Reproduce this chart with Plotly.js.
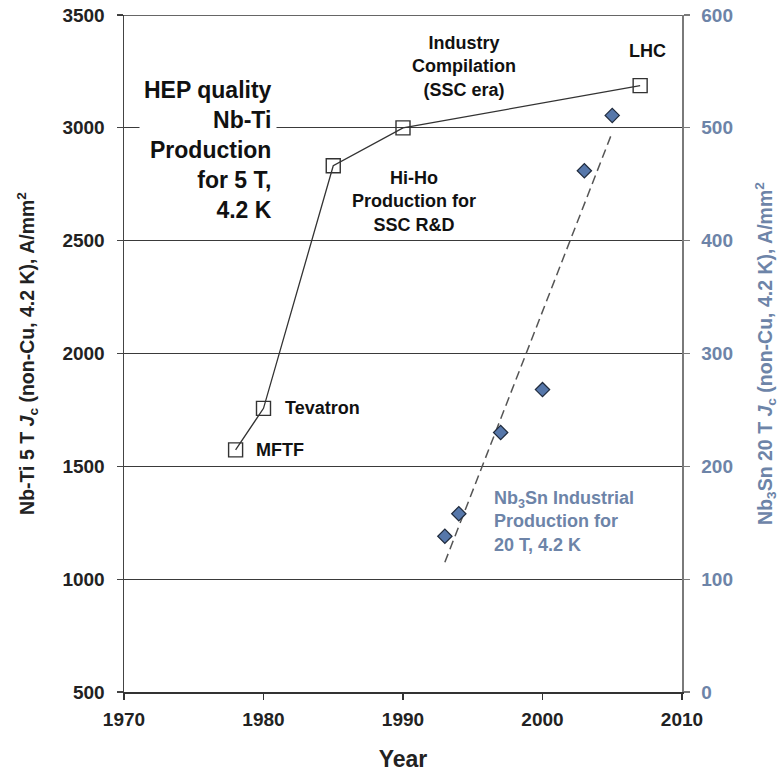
<!DOCTYPE html>
<html>
<head>
<meta charset="utf-8">
<script src="https://cdn.plot.ly/plotly-3.0.1.min.js"></script>
<style>html,body{margin:0;padding:0;background:#fff;}#chart{width:784px;height:772px;}</style>
</head>
<body>
<div id="chart"></div>
<script>
// Nb-Ti production milestones (left axis, A/mm²)
const nbtiYears = [1978, 1980, 1985, 1990, 2007];
const nbtiJc = [1573, 1757, 2832, 3000, 3187];

// Nb3Sn industrial production (right axis, A/mm²)
const nb3snYears = [1993, 1994, 1997, 2000, 2003, 2005];
const nb3snJc = [138, 158, 230, 268, 462, 511];

// Dashed trend line endpoints (right axis)
const trendYears = [1993, 2005];
const trendJc = [115, 496];

const xTicks = [1970, 1980, 1990, 2000, 2010];
const yLeftTicks = [500, 1000, 1500, 2000, 2500, 3000, 3500];
const yRightTicks = [0, 100, 200, 300, 400, 500, 600];

const FONT = 'Liberation Sans, Arial, Helvetica, sans-serif';
const BLUE_TXT = '#6d84a8';

const traces = [
  {
    x: trendYears, y: trendJc, yaxis: 'y2', type: 'scatter', mode: 'lines',
    line: {color: '#555555', width: 1.5, dash: '9px,5px'}, hoverinfo: 'skip'
  },
  {
    x: nbtiYears, y: nbtiJc, type: 'scatter', mode: 'lines+markers',
    line: {color: '#333333', width: 1.3},
    marker: {symbol: 'square-open', size: 14, color: '#333333', line: {width: 1.4}}
  },
  {
    x: nb3snYears, y: nb3snJc, yaxis: 'y2', type: 'scatter', mode: 'markers',
    marker: {symbol: 'diamond', size: 11, color: '#5677aa', line: {color: '#1f2a3c', width: 1.2}}
  }
];

const layout = {
  width: 784, height: 772,
  margin: {l: 124, r: 102, t: 15, b: 80},
  paper_bgcolor: '#ffffff', plot_bgcolor: '#ffffff',
  showlegend: false,
  font: {family: FONT, size: 18, color: '#222222'},
  xaxis: {
    range: [1970, 2010], tickvals: xTicks, ticktext: xTicks.map(String),
    showgrid: false, zeroline: false,
    showline: true, linecolor: '#333333', linewidth: 1.5, mirror: false,
    ticks: 'outside', ticklen: 6, tickcolor: '#333333', tickwidth: 1.5,
    tickfont: {family: FONT, size: 19, color: '#222222', weight: 'bold'},
    ticklabelstandoff: 4,
    title: {text: '<b>Year</b>', font: {family: FONT, size: 23, color: '#222222'}, standoff: 24}
  },
  yaxis: {
    range: [500, 3500], tickvals: yLeftTicks, ticktext: yLeftTicks.map(String),
    showgrid: true, gridcolor: '#3a3a3a', gridwidth: 1.3, zeroline: false,
    showline: true, linecolor: '#444444', linewidth: 1.5,
    ticks: 'outside', ticklen: 6, tickcolor: '#444444', tickwidth: 1.3,
    tickfont: {family: FONT, size: 19, color: '#222222', weight: 'bold'},
    ticklabelstandoff: 8,
    title: {text: '<b>Nb-Ti 5 T <i>J</i><sub>c</sub> (non-Cu, 4.2 K), A/mm<sup>2</sup></b>',
            font: {family: FONT, size: 19.5, color: '#222222'}, standoff: 22}
  },
  yaxis2: {
    range: [0, 600], tickvals: yRightTicks, ticktext: yRightTicks.map(String),
    overlaying: 'y', side: 'right', showgrid: false, zeroline: false,
    showline: true, linecolor: '#7a7a7a', linewidth: 1.5,
    ticks: 'outside', ticklen: 6, tickcolor: '#7a7a7a', tickwidth: 1.3,
    tickfont: {family: FONT, size: 19, color: BLUE_TXT, weight: 'bold'},
    ticklabelstandoff: 8,
    title: {text: '<b>Nb<sub>3</sub>Sn 20 T <i>J</i><sub>c</sub> (non-Cu, 4.2 K), A/mm<sup>2</sup></b>',
            font: {family: FONT, size: 19.5, color: BLUE_TXT}, standoff: 26}
  },
  shapes: [
    {type: 'line', xref: 'paper', yref: 'y', x0: -0.01, x1: 1, y0: 3500, y1: 3500,
     line: {color: '#333333', width: 1.3}}
  ],
  annotations: [
    {x: 1981.0, y: 2902, xref: 'x', yref: 'y', xanchor: 'right', yanchor: 'middle', align: 'right',
     text: '<b>HEP quality<br>Nb-Ti<br>Production<br>for 5 T,<br>4.2 K</b>', showarrow: false,
     bgcolor: '#ffffff', borderpad: 4, font: {family: FONT, size: 23, color: '#111111'}},
    {x: 1994.4, y: 3270, xref: 'x', yref: 'y', xanchor: 'center', yanchor: 'middle', align: 'center',
     text: '<b>Industry<br>Compilation<br>(SSC era)</b>', showarrow: false,
     font: {family: FONT, size: 18, color: '#111111'}},
    {x: 2007.56, y: 3340, xref: 'x', yref: 'y', xanchor: 'center', yanchor: 'middle',
     text: '<b>LHC</b>', showarrow: false, font: {family: FONT, size: 18, color: '#111111'}},
    {x: 1990.8, y: 2674, xref: 'x', yref: 'y', xanchor: 'center', yanchor: 'middle', align: 'center',
     text: '<b>Hi-Ho<br>Production for<br>SSC R&D</b>', showarrow: false,
     font: {family: FONT, size: 18, color: '#111111'}},
    {x: 1981.42, y: 1759, xref: 'x', yref: 'y', xanchor: 'left', yanchor: 'middle',
     text: '<b>Tevatron</b>', showarrow: false, font: {family: FONT, size: 18, color: '#111111'}},
    {x: 1979.34, y: 1573, xref: 'x', yref: 'y', xanchor: 'left', yanchor: 'middle',
     text: '<b>MFTF</b>', showarrow: false, font: {family: FONT, size: 18, color: '#111111'}},
    {x: 1996.36, y: 151, xref: 'x', yref: 'y2', xanchor: 'left', yanchor: 'middle', align: 'left',
     text: '<b>Nb<sub>3</sub>Sn Industrial<br>Production for<br>20 T, 4.2 K</b>', showarrow: false,
     font: {family: FONT, size: 18, color: BLUE_TXT}}
  ]
};

Plotly.newPlot('chart', traces, layout, {displayModeBar: false, staticPlot: true});
</script>
</body>
</html>
